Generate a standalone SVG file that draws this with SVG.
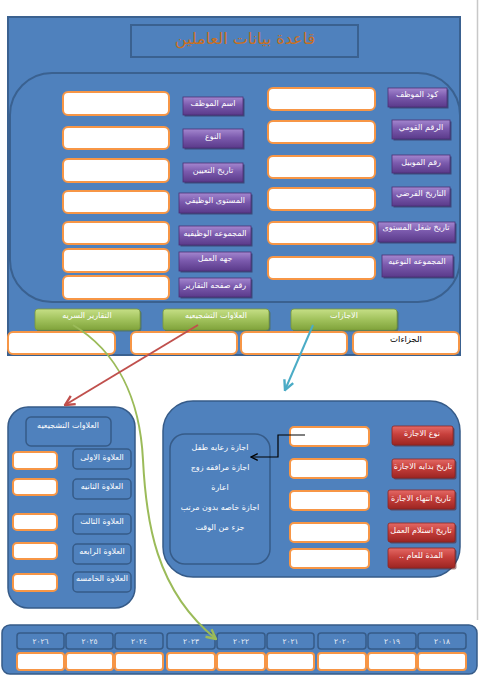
<svg xmlns="http://www.w3.org/2000/svg" width="481" height="676" viewBox="0 0 481 676">
<defs>
<linearGradient id="gPur" x1="0" y1="0" x2="0" y2="1">
<stop offset="0" stop-color="#a487cf"/><stop offset="0.45" stop-color="#7b5aad"/><stop offset="1" stop-color="#5a3a8a"/>
</linearGradient>
<linearGradient id="gRed" x1="0" y1="0" x2="0" y2="1">
<stop offset="0" stop-color="#e46a66"/><stop offset="0.45" stop-color="#c63f3b"/><stop offset="1" stop-color="#9c2522"/>
</linearGradient>
<linearGradient id="gGrn" x1="0" y1="0" x2="0" y2="1">
<stop offset="0" stop-color="#c6df86"/><stop offset="0.5" stop-color="#a1c25c"/><stop offset="1" stop-color="#80a33b"/>
</linearGradient>
<linearGradient id="gTitle" x1="0" y1="0" x2="0" y2="1">
<stop offset="0" stop-color="#e08a2a"/><stop offset="1" stop-color="#b5601a"/>
</linearGradient>
<marker id="aGreen" viewBox="0 0 10 10" refX="9" refY="5" markerWidth="6" markerHeight="6" orient="auto"><path d="M1,1 L9,5 L1,9" fill="none" stroke="#9bbb59" stroke-width="2"/></marker>
<marker id="aRed" viewBox="0 0 10 10" refX="9" refY="5" markerWidth="6" markerHeight="6" orient="auto"><path d="M1,1 L9,5 L1,9" fill="none" stroke="#c0504d" stroke-width="2"/></marker>
<marker id="aCyan" viewBox="0 0 10 10" refX="9" refY="5" markerWidth="6" markerHeight="6" orient="auto"><path d="M1,1 L9,5 L1,9" fill="none" stroke="#4bacc6" stroke-width="2"/></marker>
<marker id="aBlack" viewBox="0 0 10 10" refX="9" refY="5" markerWidth="7" markerHeight="7" orient="auto"><path d="M1,1 L9,5 L1,9" fill="none" stroke="#000" stroke-width="1.5"/></marker>
</defs>
<style>
text{font-family:"DejaVu Sans","Noto Sans",sans-serif;direction:rtl}
.panel{fill:#4f81bd;stroke:#3a6190;stroke-width:2}
.inp{fill:#fff;stroke:#f79646;stroke-width:2}
.pur{fill:url(#gPur);stroke:#4b2f75;stroke-width:0.8}
.red{fill:url(#gRed);stroke:#8a2421;stroke-width:0.8}
.grn{fill:url(#gGrn);stroke:#78983a;stroke-width:0.8}
.sh{fill:#2c1f45;opacity:0.55}
.shr{fill:#5a1513;opacity:0.5}
.shg{fill:#4d6626;opacity:0.5}
.lbl{fill:#4f81bd;stroke:#365b88;stroke-width:1.5}
.wt{fill:#fff;font-size:8px;text-anchor:middle}
.wt9{fill:#fff;font-size:8.5px;text-anchor:middle}
.yr{fill:#e8eef8;font-size:7.5px;text-anchor:middle}
</style>
<rect width="481" height="676" fill="#fff"/>
<line x1="477.5" y1="0" x2="477.5" y2="620" stroke="#c8c8c8" stroke-width="1.5"/>

<g id="main-panel">
<rect class="panel" x="8" y="17" width="452" height="338"/>
</g>
<g id="title">
<rect x="131" y="25" width="227" height="32" fill="none" stroke="#3a6190" stroke-width="2"/>
<text x="245" y="44" font-size="16" fill="url(#gTitle)" text-anchor="middle" style="fill:#c8701f">قاعدة بيانات العاملين</text>
</g>
<g id="inner-panel">
<rect x="10" y="73" width="450" height="229" rx="42" fill="#4f81bd" stroke="#3a6190" stroke-width="2"/>
</g>

<g id="left-fields">
<rect class="inp" x="63" y="92" width="106" height="23" rx="5"/>
<rect class="inp" x="63" y="127" width="106" height="22" rx="5"/>
<rect class="inp" x="63" y="159" width="106" height="23" rx="5"/>
<rect class="inp" x="63" y="191" width="106" height="22" rx="5"/>
<rect class="inp" x="63" y="222" width="106" height="22" rx="5"/>
<rect class="inp" x="63" y="249" width="106" height="23" rx="5"/>
<rect class="inp" x="63" y="276" width="106" height="23" rx="5"/>
</g>
<g id="btn-emp-name"><rect class="sh" x="184.5" y="98.5" width="60" height="18"/><rect class="pur" x="183" y="97" width="60" height="18"/><text class="wt" x="213" y="106">اسم الموظف</text></g>
<g id="btn-gender"><rect class="sh" x="184.5" y="130.5" width="60" height="19"/><rect class="pur" x="183" y="129" width="60" height="19"/><text class="wt" x="213" y="139">النوع</text></g>
<g id="btn-hire-date"><rect class="sh" x="184.5" y="164.5" width="60" height="19"/><rect class="pur" x="183" y="163" width="60" height="19"/><text class="wt" x="213" y="173">تاريخ التعيين</text></g>
<g id="btn-job-level"><rect class="sh" x="180.5" y="194.5" width="72" height="20"/><rect class="pur" x="179" y="193" width="72" height="20"/><text class="wt" x="215" y="203">المستوى الوظيفي</text></g>
<g id="btn-job-group"><rect class="sh" x="180.5" y="227.5" width="72" height="19"/><rect class="pur" x="179" y="226" width="72" height="19"/><text class="wt" x="215" y="236">المجموعه الوظيفيه</text></g>
<g id="btn-workplace"><rect class="sh" x="180.5" y="253.5" width="72" height="19"/><rect class="pur" x="179" y="252" width="72" height="19"/><text class="wt" x="215" y="261">جهه العمل</text></g>
<g id="btn-report-page"><rect class="sh" x="180.5" y="279.5" width="72" height="19"/><rect class="pur" x="179" y="278" width="72" height="19"/><text class="wt" x="215" y="288">رقم صفحه التقارير</text></g>

<g id="right-fields">
<rect class="inp" x="268" y="88" width="107" height="22" rx="5"/>
<rect class="inp" x="268" y="121" width="107" height="22" rx="5"/>
<rect class="inp" x="268" y="156" width="107" height="22" rx="5"/>
<rect class="inp" x="268" y="188" width="107" height="22" rx="5"/>
<rect class="inp" x="268" y="222" width="107" height="22" rx="5"/>
<rect class="inp" x="268" y="257" width="107" height="22" rx="5"/>
</g>
<g id="btn-emp-code"><rect class="sh" x="389.5" y="89.5" width="59" height="19"/><rect class="pur" x="388" y="88" width="59" height="19"/><text class="wt" x="417" y="97">كود الموظف</text></g>
<g id="btn-national-id"><rect class="sh" x="393.5" y="121.5" width="58" height="19"/><rect class="pur" x="392" y="120" width="58" height="19"/><text class="wt" x="421" y="130">الرقم القومي</text></g>
<g id="btn-mobile"><rect class="sh" x="393.5" y="156.5" width="58" height="18"/><rect class="pur" x="392" y="155" width="58" height="18"/><text class="wt" x="421" y="165">رقم الموبيل</text></g>
<g id="btn-assumed-date"><rect class="sh" x="393.5" y="188.5" width="58" height="19"/><rect class="pur" x="392" y="187" width="58" height="19"/><text class="wt" x="421" y="196">التاريخ الفرضي</text></g>
<g id="btn-level-date"><rect class="sh" x="379.5" y="223.5" width="77" height="20"/><rect class="pur" x="378" y="222" width="77" height="20"/><text class="wt" x="416" y="230">تاريخ شغل المستوى</text></g>
<g id="btn-type-group"><rect class="sh" x="383.5" y="256.5" width="71" height="22"/><rect class="pur" x="382" y="255" width="71" height="22"/><text class="wt" x="417" y="264">المجموعه النوعيه</text></g>

<g id="btn-secret-reports"><rect class="shg" x="36.5" y="310.5" width="105" height="21" rx="3"/><rect class="grn" x="35" y="309" width="105" height="21" rx="3"/><text class="wt" x="87" y="318">التقارير السريه</text></g>
<g id="btn-bonuses"><rect class="shg" x="164.5" y="310.5" width="106" height="21" rx="3"/><rect class="grn" x="163" y="309" width="106" height="21" rx="3"/><text class="wt" x="216" y="318">العلاوات التشجيعيه</text></g>
<g id="btn-leaves"><rect class="shg" x="292.5" y="310.5" width="106" height="21" rx="3"/><rect class="grn" x="291" y="309" width="106" height="21" rx="3"/><text class="wt" x="344" y="318">الاجازات</text></g>

<g id="bottom-fields">
<rect class="inp" x="8" y="332" width="107" height="22" rx="5"/>
<rect class="inp" x="131" y="332" width="106" height="22" rx="5"/>
<rect class="inp" x="241" y="332" width="106" height="22" rx="5"/>
</g>
<g id="penalties"><rect class="inp" x="353" y="332" width="106" height="22" rx="5"/><text x="406" y="342" font-size="8.5" fill="#000" text-anchor="middle">الجزاءات</text></g>

<g id="bonus-panel">
<rect x="8" y="407" width="127" height="201" rx="20" fill="#4f81bd" stroke="#365b88" stroke-width="1.5"/>
<rect class="lbl" x="26" y="417" width="85" height="29" rx="5"/>
<text class="wt" x="68" y="428">العلاوات التشجيعيه</text>
<rect class="lbl" x="73" y="449" width="58" height="20" rx="4"/><text class="wt" x="102" y="460">العلاوة الاولى</text>
<rect class="lbl" x="73" y="479" width="58" height="20" rx="4"/><text class="wt" x="102" y="489">العلاوة الثانيه</text>
<rect class="lbl" x="73" y="514" width="58" height="20" rx="4"/><text class="wt" x="102" y="524">العلاوة الثالث</text>
<rect class="lbl" x="73" y="544" width="58" height="20" rx="4"/><text class="wt" x="102" y="554">العلاوة الرابعه</text>
<rect class="lbl" x="73" y="572" width="58" height="20" rx="4"/><text class="wt" x="102" y="581">العلاوة الخامسه</text>
<rect class="inp" x="13" y="452" width="44" height="17" rx="4"/>
<rect class="inp" x="13" y="479" width="44" height="16" rx="4"/>
<rect class="inp" x="13" y="514" width="44" height="16" rx="4"/>
<rect class="inp" x="13" y="543" width="44" height="16" rx="4"/>
<rect class="inp" x="13" y="574" width="44" height="17" rx="4"/>
</g>

<g id="leave-panel">
<rect x="163" y="401" width="297" height="176" rx="30" fill="#4f81bd" stroke="#365b88" stroke-width="1.5"/>
<rect x="170" y="434" width="100" height="130" rx="15" fill="#4f81bd" stroke="#365b88" stroke-width="1.5"/>
<text class="wt" x="220" y="450">اجازة رعايه طفل</text>
<text class="wt" x="220" y="470">اجازة مرافقه زوج</text>
<text class="wt" x="220" y="490">اعارة</text>
<text class="wt" x="220" y="510">اجازة خاصه بدون مرتب</text>
<text class="wt" x="220" y="530">جزء من الوقت</text>
<rect class="inp" x="290" y="427" width="79" height="19" rx="4"/>
<rect class="inp" x="290" y="459" width="77" height="19" rx="4"/>
<rect class="inp" x="290" y="491" width="79" height="19" rx="4"/>
<rect class="inp" x="290" y="523" width="79" height="19" rx="4"/>
<rect class="inp" x="290" y="549" width="79" height="19" rx="4"/>
</g>
<g id="btn-leave-type"><rect class="shr" x="393.5" y="427.5" width="61" height="19" rx="2"/><rect class="red" x="392" y="426" width="61" height="19" rx="2"/><text class="wt" x="422" y="436">نوع الاجازة</text></g>
<g id="btn-leave-start"><rect class="shr" x="393.5" y="460.5" width="63" height="19" rx="2"/><rect class="red" x="392" y="459" width="63" height="19" rx="2"/><text class="wt" x="423" y="469">تاريخ بدايه الاجازة</text></g>
<g id="btn-leave-end"><rect class="shr" x="389.5" y="491.5" width="67" height="19" rx="2"/><rect class="red" x="388" y="490" width="67" height="19" rx="2"/><text class="wt" x="421" y="501">تاريخ انتهاء الاجازة</text></g>
<g id="btn-return-date"><rect class="shr" x="389.5" y="524.5" width="67" height="19" rx="2"/><rect class="red" x="388" y="523" width="67" height="19" rx="2"/><text class="wt" x="421" y="533">تاريخ استلام العمل</text></g>
<g id="btn-year-period"><rect class="shr" x="389.5" y="549.5" width="67" height="20" rx="2"/><rect class="red" x="388" y="548" width="67" height="20" rx="2"/><text class="wt" x="421" y="558">المدة للعام ..</text></g>

<g id="years-panel">
<rect x="2" y="625" width="475" height="49" rx="8" fill="#4f81bd" stroke="#365b88" stroke-width="1.5"/>
<rect class="lbl" x="17" y="633" width="47" height="16" rx="3"/><text class="yr" x="40.5" y="644">٢٠٢٦</text>
<rect class="lbl" x="66" y="633" width="47" height="16" rx="3"/><text class="yr" x="89.5" y="644">٢٠٢٥</text>
<rect class="lbl" x="115" y="633" width="48" height="16" rx="3"/><text class="yr" x="139" y="644">٢٠٢٤</text>
<rect class="lbl" x="167" y="633" width="48" height="16" rx="3"/><text class="yr" x="191" y="644">٢٠٢٣</text>
<rect class="lbl" x="217" y="633" width="48" height="16" rx="3"/><text class="yr" x="241" y="644">٢٠٢٢</text>
<rect class="lbl" x="267" y="633" width="47" height="16" rx="3"/><text class="yr" x="290.5" y="644">٢٠٢١</text>
<rect class="lbl" x="318" y="633" width="48" height="16" rx="3"/><text class="yr" x="342" y="644">٢٠٢٠</text>
<rect class="lbl" x="368" y="633" width="48" height="16" rx="3"/><text class="yr" x="392" y="644">٢٠١٩</text>
<rect class="lbl" x="418" y="633" width="48" height="16" rx="3"/><text class="yr" x="442" y="644">٢٠١٨</text>
<rect class="inp" x="17" y="653" width="47" height="17" rx="3"/>
<rect class="inp" x="66" y="653" width="47" height="17" rx="3"/>
<rect class="inp" x="115" y="653" width="48" height="17" rx="3"/>
<rect class="inp" x="167" y="653" width="48" height="17" rx="3"/>
<rect class="inp" x="217" y="653" width="48" height="17" rx="3"/>
<rect class="inp" x="267" y="653" width="47" height="17" rx="3"/>
<rect class="inp" x="318" y="653" width="48" height="17" rx="3"/>
<rect class="inp" x="368" y="653" width="48" height="17" rx="3"/>
<rect class="inp" x="418" y="653" width="48" height="17" rx="3"/>
</g>

<g id="connectors" fill="none">
<path d="M73,325 C118,352 140,400 143,460 C146,520 155,590 216,639" stroke="#9bbb59" stroke-width="2" marker-end="url(#aGreen)"/>
<path d="M198,325 L65,405" stroke="#c0504d" stroke-width="2" marker-end="url(#aRed)"/>
<path d="M313,325 L285,390" stroke="#4bacc6" stroke-width="2" marker-end="url(#aCyan)"/>
<path d="M305,435 L278,435 L278,457 L251,457" stroke="#000" stroke-width="1.2" marker-end="url(#aBlack)"/>
</g>
</svg>
